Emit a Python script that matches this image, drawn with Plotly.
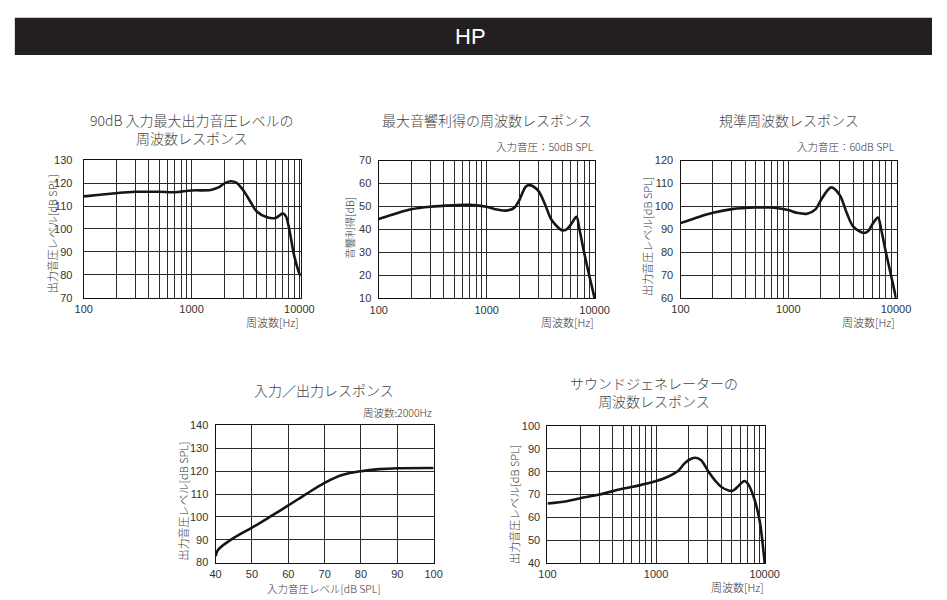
import plotly.graph_objects as go

W, H = 947, 600

# ---- data -------------------------------------------------------------
# 90dB 入力最大出力音圧レベルの周波数レスポンス
osp90_freq = [100, 150, 200, 300, 500, 700, 1000, 1500, 1800, 2000, 2300, 2600,
              3000, 3500, 4000, 5000, 6000, 6500, 7000, 7500, 8000, 9000, 10000, 10300]
osp90_level = [114.2, 115.0, 115.6, 116.2, 116.2, 116.0, 116.8, 117.0, 118.2, 119.8, 120.8, 120.2,
               117.0, 112.0, 107.7, 105.1, 104.8, 105.8, 106.8, 105.5, 100.5, 87.8, 80.6, 79.5]

# 最大音響利得の周波数レスポンス (入力音圧 50dB SPL)
gain_freq = [100, 150, 200, 300, 500, 700, 1000, 1200, 1500, 1800, 2000, 2300, 2500,
             3000, 3500, 4000, 5000, 5500, 6000, 6800, 7200, 8000, 9000, 10000]
gain_db = [44.5, 47.2, 48.8, 49.9, 50.5, 50.7, 49.9, 48.8, 48.2, 49.4, 52.6, 58.6, 59.3,
           56.9, 50.5, 44.1, 39.6, 40.0, 42.0, 45.5, 40.6, 29.9, 19.2, 10.0]

# 規準周波数レスポンス (入力音圧 60dB SPL)
ref_freq = [100, 150, 200, 300, 500, 700, 1000, 1200, 1500, 1800, 2000, 2500,
            3000, 3500, 4000, 5000, 5500, 6000, 6800, 7300, 8000, 9000, 10000]
ref_level = [92.7, 95.5, 97.2, 98.8, 99.5, 99.5, 98.4, 97.2, 96.8, 98.8, 102.6, 108.3,
             105.0, 97.0, 91.3, 88.4, 89.1, 92.0, 95.1, 89.8, 80.6, 69.9, 60.0]

# 入力／出力レスポンス (周波数 2000Hz)
io_input = [40, 40.5, 41, 45, 50, 55, 60, 65, 70, 75, 80, 85, 90, 100]
io_output = [82.8, 85.2, 86.2, 90.8, 95.3, 100.1, 105.0, 110.1, 114.9, 118.4, 120.0, 120.9, 121.3, 121.4]

# サウンドジェネレーターの周波数レスポンス
sg_freq = [100, 150, 200, 300, 500, 700, 1000, 1300, 1600, 1800, 2000, 2300, 2600,
           3000, 3500, 4000, 5000, 5500, 6500, 7000, 8000, 9000, 10000]
sg_level = [66.1, 67.1, 68.4, 70.0, 72.6, 74.0, 75.9, 77.9, 80.4, 83.3, 85.1, 86.1, 85.0,
            80.4, 76.1, 73.3, 71.6, 72.9, 75.9, 74.7, 68.3, 58.3, 40.0]

freq_ticks = [100, 1000, 10000]
freq_minor = [200, 300, 400, 500, 600, 700, 800, 900,
              2000, 3000, 4000, 5000, 6000, 7000, 8000, 9000]
io_ticks = [40, 50, 60, 70, 80, 90, 100]

# ---- styling ----------------------------------------------------------
JP = "Noto Sans CJK JP Light, Noto Sans CJK JP, sans-serif"
NUM = "Liberation Sans, Arial, sans-serif"
GRID = "#2b2b2b"
TEXT = "#333333"
TITLE = "#444444"
LINE = "#161616"

fig = go.Figure()


def px_x(v):
    return v / W


def px_y(v):
    return 1 - v / H


panels = [
    # plot box (left, right, top, bottom) in pixels
    dict(box=(76.7, 299.3, 157.3, 297.7), x=osp90_freq, y=osp90_level, log=True,
         xr=[2, 4.012], yr=[70, 130], stand=8),
    dict(box=(379.3, 601.5, 157.7, 298.3), x=gain_freq, y=gain_db, log=True,
         xr=[2, 4.006], yr=[10, 70], stand=4),
    dict(box=(689.0, 910.7, 157.7, 298.0), x=ref_freq, y=ref_level, log=True,
         xr=[2, 4.006], yr=[60, 120], stand=4),
    dict(box=(212.0, 435.7, 428.0, 568.0), x=io_input, y=io_output, log=False,
         xr=[40, 100], yr=[80, 140], stand=4),
    dict(box=(552.5, 776.0, 428.5, 568.5), x=sg_freq, y=sg_level, log=True,
         xr=[2, 4.006], yr=[40, 100], stand=4),
]

for i, p in enumerate(panels, start=1):
    sfx = "" if i == 1 else str(i)
    l, r, t, b = p["box"]
    fig.add_trace(go.Scatter(
        x=p["x"], y=p["y"], mode="lines",
        line=dict(color=LINE, width=2.6, shape="spline", smoothing=0.9),
        xaxis="x" + sfx, yaxis="y" + sfx, showlegend=False, hoverinfo="skip",
        cliponaxis=True,
    ))
    common = dict(
        showgrid=True, gridcolor=GRID, gridwidth=1, zeroline=False,
        showline=True, mirror=True, linecolor="#111111", linewidth=1.3,
        ticks="", tickfont=dict(family=NUM, size=11, color=TEXT), fixedrange=True,
    )
    if p["log"]:
        xax = dict(common, type="log", range=p["xr"], tickmode="array",
                   tickvals=freq_ticks, ticktext=[str(v) for v in freq_ticks],
                   minor=dict(tickmode="array", tickvals=freq_minor, showgrid=True,
                              gridcolor=GRID, gridwidth=1, ticks=""))
    else:
        xax = dict(common, range=p["xr"], tickmode="array", tickvals=io_ticks)
    xax.update(domain=[px_x(l), px_x(r)], anchor="y" + sfx, ticklabelstandoff=1)
    yax = dict(common, range=p["yr"], tickmode="linear", tick0=0, dtick=10,
               domain=[px_y(b), px_y(t)], anchor="x" + sfx,
               ticklabelstandoff=p["stand"])
    fig.update_layout(**{"xaxis" + sfx: xax, "yaxis" + sfx: yax})

# ---- header bar -------------------------------------------------------
fig.add_shape(type="rect", xref="paper", yref="paper",
              x0=px_x(6), x1=1.0, y0=px_y(50), y1=px_y(12),
              fillcolor="#231f20", line=dict(width=0), layer="below")

ann = []


def text(s, x, y, size=11, xanchor="center", yanchor="middle", angle=0,
         family=JP, color=TEXT):
    ann.append(dict(text=s, x=px_x(x), y=px_y(y), xref="paper", yref="paper",
                    showarrow=False, xanchor=xanchor, yanchor=yanchor,
                    textangle=angle, font=dict(family=family, size=size, color=color,
                                               weight=300)))


text("HP", 473.5, 31.5, size=22, family="Liberation Sans Narrow, Liberation Sans, Arial",
     color="#ffffff")

# chart titles
text("90dB 入力最大出力音圧レベルの<br>周波数レスポンス", 188, 125, size=14, color=TITLE)
text("最大音響利得の周波数レスポンス", 490, 116.7, size=14, color=TITLE)
text("規準周波数レスポンス", 800, 116.7, size=14, color=TITLE)
text("入力／出力レスポンス", 323.5, 391.7, size=14, color=TITLE)
text("サウンドジェネレーターの<br>周波数レスポンス", 662, 394, size=14, color=TITLE)

# measurement conditions
text("入力音圧：50dB SPL", 602, 143.3, size=10.5, xanchor="right")
text("入力音圧：60dB SPL", 911, 143.3, size=10.5, xanchor="right")
text("周波数:2000Hz", 436, 415, size=10.5, xanchor="right")

# axis titles
text("周波数[Hz]", 300, 322, xanchor="right")
text("周波数[Hz]", 602, 322, xanchor="right")
text("周波数[Hz]", 911, 322, xanchor="right")
text("入力音圧レベル[dB SPL]", 323.5, 594, size=10.5)
text("周波数[Hz]", 777, 593, xanchor="right")

text("出力音圧レベル[dB SPL]", 44, 232, angle=-90)
text("音響利得[dB]", 349, 226, size=10.5, angle=-90)
text("出力音圧レベル[dB SPL]", 655, 235, angle=-90)
text("出力音圧レベル[dB SPL]", 178, 505, angle=-90)
text("出力音圧レベル[dB SPL]", 518, 508, angle=-90)

fig.update_layout(
    width=W, height=H, margin=dict(l=0, r=0, t=0, b=0),
    paper_bgcolor="#ffffff", plot_bgcolor="#ffffff",
    annotations=ann, showlegend=False,
)

# the page body gets no default margin so the figure sits at the window origin
fig.write_html("out.html", config={"displayModeBar": False},
               post_script="document.body.style.margin='0';")
